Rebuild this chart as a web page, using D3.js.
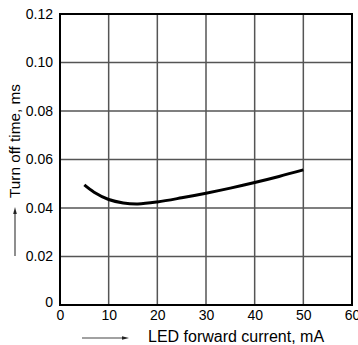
<!DOCTYPE html>
<html>
<head>
<meta charset="utf-8">
<script src="https://cdn.jsdelivr.net/npm/d3@7"></script>
<style>
  body { margin: 0; background: #fff; }
  text { font-family: "Liberation Sans", Arial, sans-serif; fill: #000; }
</style>
</head>
<body>
<div id="chart"></div>
<script>
// Setting up sizes
const width = 358;
const height = 345;

const margin = {
  top: 14,
  right: 6,
  bottom: 40,
  left: 60
};

// Data
const current = [5, 7, 10, 13, 16, 20, 25, 30, 35, 40, 45, 50];
const turnOff = [0.0495, 0.0465, 0.0435, 0.0421, 0.0417, 0.0425, 0.0442, 0.0461, 0.0482, 0.0505, 0.053, 0.0557];

const xTicks = [0, 10, 20, 30, 40, 50, 60];
const yTicks = [0, 0.02, 0.04, 0.06, 0.08, 0.10, 0.12];

const data = current.map((c, i) => ({ x: c, y: turnOff[i] }));

const svg = d3.select("#chart")
  .append("svg")
  .attr("width", width)
  .attr("height", height);

// Scales
const x = d3.scaleLinear()
  .domain([0, 60])
  .range([margin.left, width - margin.right]);

const y = d3.scaleLinear()
  .domain([0, 0.12])
  .range([height - margin.bottom, margin.top]);

// Grid
svg.append("g")
  .selectAll("line")
  .data(xTicks.slice(1, -1))
  .enter()
  .append("line")
  .attr("x1", d => x(d))
  .attr("x2", d => x(d))
  .attr("y1", y(0))
  .attr("y2", y(0.12))
  .attr("stroke", "#555")
  .attr("stroke-width", 1.5);

svg.append("g")
  .selectAll("line")
  .data(yTicks.slice(1, -1))
  .enter()
  .append("line")
  .attr("x1", x(0))
  .attr("x2", x(60))
  .attr("y1", d => y(d))
  .attr("y2", d => y(d))
  .attr("stroke", "#555")
  .attr("stroke-width", 1.5);

// Frame
svg.append("rect")
  .attr("x", x(0))
  .attr("y", y(0.12))
  .attr("width", x(60) - x(0))
  .attr("height", y(0) - y(0.12))
  .attr("fill", "none")
  .attr("stroke", "#000")
  .attr("stroke-width", 2);

// Axes labels
const yAxis = d3.axisLeft(y)
  .tickValues(yTicks)
  .tickSize(0)
  .tickPadding(7)
  .tickFormat(d => d === 0 ? "0" : d3.format(".2f")(d));

svg.append("g")
  .attr("transform", `translate(${x(0)},0)`)
  .call(yAxis)
  .call(g => g.select(".domain").remove())
  .call(g => g.selectAll("text").style("font-size", "14px")
    .attr("dy", d => d === 0 ? "0.1em" : "0.32em"));

const xAxis = d3.axisBottom(x)
  .tickValues(xTicks)
  .tickSize(0)
  .tickPadding(5);

svg.append("g")
  .attr("transform", `translate(0,${y(0)})`)
  .call(xAxis)
  .call(g => g.select(".domain").remove())
  .call(g => g.selectAll("text").style("font-size", "14px"));

// Curve
svg.append("path")
  .datum(data)
  .attr("fill", "none")
  .attr("stroke", "#000")
  .attr("stroke-width", 3)
  .attr("d", d3.line()
    .x(d => x(d.x))
    .y(d => y(d.y))
    .curve(d3.curveCatmullRom));

// X title with arrow
svg.append("line")
  .attr("x1", 82).attr("x2", 124)
  .attr("y1", 338).attr("y2", 338)
  .attr("stroke", "#444").attr("stroke-width", 1.2);
svg.append("path")
  .attr("d", "M122,336.2 L129,338 L122,339.8 Z")
  .attr("fill", "#222");

svg.append("text")
  .attr("x", 148)
  .attr("y", 342)
  .style("font-size", "16px")
  .text("LED forward current, mA");

// Y title with arrow
svg.append("line")
  .attr("x1", 15).attr("x2", 15)
  .attr("y1", 256).attr("y2", 212)
  .attr("stroke", "#444").attr("stroke-width", 1.2);
svg.append("path")
  .attr("d", "M13.2,214 L15,207 L16.8,214 Z")
  .attr("fill", "#222");

svg.append("text")
  .attr("transform", "translate(20,198) rotate(-90)")
  .style("font-size", "15.3px")
  .text("Turn off time, ms");
</script>
</body>
</html>
